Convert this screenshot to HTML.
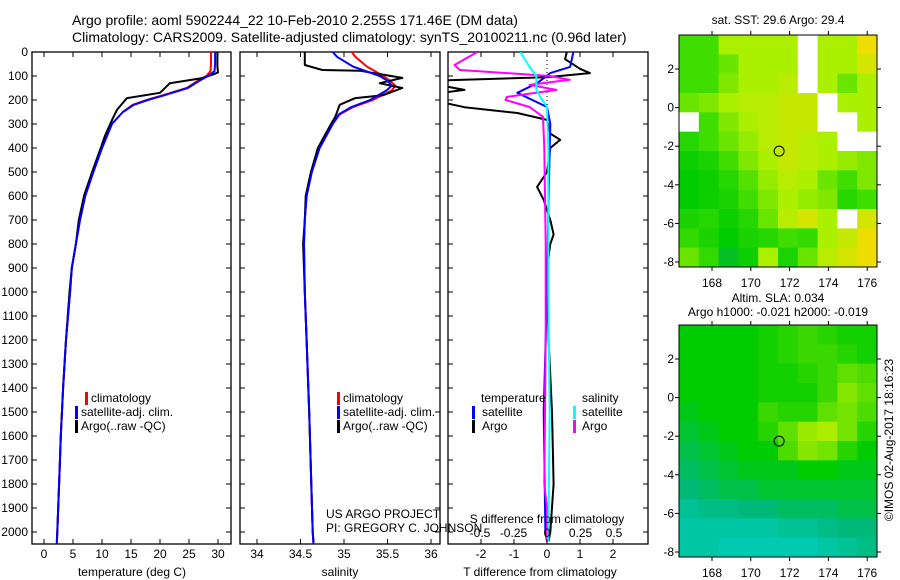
<!DOCTYPE html>
<html><head><meta charset="utf-8"><style>
html,body{margin:0;padding:0;background:#fff;}
svg{display:block;font-family:"Liberation Sans",sans-serif;}
text{font-size:12px;fill:#000;}
</style></head><body>
<svg id="c" width="900" height="580" viewBox="0 0 900 580" xmlns="http://www.w3.org/2000/svg">
<text x="72" y="25" style="font-size:14px">Argo profile: aoml 5902244_22 10-Feb-2010 2.255S 171.46E (DM data)</text>
<text x="72" y="42" style="font-size:14px">Climatology: CARS2009. Satellite-adjusted climatology: synTS_20100211.nc (0.96d later)</text>
<defs><clipPath id="clip3"><rect x="448" y="52" width="200" height="492"/></clipPath></defs>
</svg>
<script>
// ---- data ----
const depthTicks=[0,100,200,300,400,500,600,700,800,900,1000,1100,1200,1300,1400,1500,1600,1700,1800,1900,2000];
const tTicks=[0,5,10,15,20,25,30];
const sTicks=[34,34.5,35,35.5,36];
const sTickLabels=["34","34.5","35","35.5","36"];
const dtTicks=[-2,-1,0,1,2];
const dsTicks=[-0.5,-0.25,0,0.25,0.5];
const dsTickLabels=["-0.5","-0.25","0","0.25","0.5"];
const climDepth=[0,50,80,100,120,150,180,200,220,250,300,400,500,600,700,800,900,1000,1200,1400,1600,1800,2000,2050];
const climT=[28.8,28.8,28.7,28,26.5,24.6,20.5,17.7,15.3,13.6,11.7,10,8.5,7.1,6.2,5.5,4.8,4.5,3.8,3.3,2.9,2.6,2.3,2.2];
const satT=[29.5,29.5,29.4,28.3,26.8,24.8,20.8,17.9,15.5,13.6,11.7,10,8.5,7.1,6.2,5.5,4.8,4.5,3.8,3.3,2.9,2.6,2.3,2.2];
const argoTDepth=[0,60,85,95,110,130,170,192,240,280,350,400,500,600,700,800,900,1000,1200,1400,1600,1800,2000,2040];
const argoT=[29.9,29.9,30,29,27,21.7,20,14.3,12.6,11.8,10.5,9.8,8.3,6.9,6.0,5.5,4.8,4.4,3.8,3.3,2.9,2.6,2.3,2.2];
const climSDepth=[0,20,60,100,120,140,160,200,230,260,300,400,500,600,700,800,1000,1200,1500,2000,2050];
const climS=[35.09,35.13,35.26,35.45,35.53,35.59,35.55,35.33,35.1,34.95,34.87,34.72,34.63,34.57,34.55,34.54,34.55,34.57,34.6,34.64,34.65];
const satS=[34.87,34.92,35.1,35.41,35.5,35.55,35.49,35.3,35.08,34.94,34.87,34.72,34.63,34.57,34.55,34.54,34.55,34.57,34.6,34.64,34.65];
const argoSDepth=[0,54,75,78,108,130,150,180,192,220,270,300,400,500,600,700,800,1000,1200,1500,2000,2040];
const argoS=[34.55,34.55,34.75,35.18,35.67,35.41,35.67,35.45,35.13,34.95,34.9,34.85,34.7,34.62,34.56,34.55,34.53,34.55,34.57,34.6,34.64,34.65];
const dTArgoDepth=[0,30,70,88,105,120,140,158,175,200,230,254,283,340,366,400,500,562,616,700,760,800,900,1200,1500,1800,2000,2040];
const dTArgo=[0.6,0.55,1.0,1.3,0,-3.5,-3.2,-2.5,-3.5,-3.5,-2.5,-0.9,0,0.1,0.4,0.1,0,-0.3,-0.1,0.1,0.2,0.1,0,0.05,0.15,0.2,0.1,0.05];
const dTSatDepth=[0,62,88,130,170,229,300,600,1000,1500,2000,2040];
const dTSat=[0.8,0.7,0.1,-0.3,-0.9,0,0.1,0.05,0,-0.1,-0.05,0];
const dSArgoDepth=[0,54,75,88,100,116,137,158,187,200,229,270,400,800,1200,1800,1900,2040];
const dSArgo=[-0.52,-0.69,-0.65,-0.3,0.02,0.17,-0.13,0.07,-0.3,-0.31,-0.13,-0.03,-0.02,-0.01,-0.01,-0.02,0,0];
const dSSatDepth=[0,62,100,158,187,229,400,1000,1500,2040];
const dSSat=[-0.2,-0.13,-0.08,-0.08,-0.05,0,0.01,0.01,0.02,0.01];
const latTicks=[2,0,-2,-4,-6,-8];
const lonTicks=[168,170,172,174,176];
const argoLon=171.46, argoLat=-2.255;
// map grids (10 lon cols x 12 lat rows); -1 = missing
const sstGrid=[
[1,1,1.5,1.5,1.5,1.5,-1,1.5,1.5,2],
[1,1,1.2,1.5,1.5,1.5,-1,1.5,1.5,1.8],
[1,1,1.3,1.5,1.5,1.6,-1,1.5,1.2,1.5],
[1.2,1.3,1.5,1.6,1.6,1.7,1.7,-1,1.5,1.5],
[-1,1,1.3,1.5,1.6,1.7,1.7,-1,-1,1.5],
[0.8,1,1.2,1.4,1.6,1.7,1.6,1.5,-1,-1],
[0.6,0.7,1,1.3,1.5,1.7,1.6,1.5,1.4,1.3],
[0.5,0.6,0.8,1.1,1.4,1.6,1.5,1.2,1.0,1.3],
[0.5,0.6,0.7,1,1.3,1.5,1.4,1.3,0.8,1.0],
[0.7,0.8,0.6,0.8,1.2,1.6,1.8,1.5,-1,1.8],
[0.9,0.7,0.5,0.7,0.8,1.0,0.9,1.5,1.7,2],
[1.2,0.9,0.3,0.6,1.5,0.7,1.2,1.6,1.8,2]];
const slaGrid=[
[1,1,1,1,1.1,1.2,1.3,1.2,1.1,1.1],
[1,1,1,1,1.1,1.2,1.3,1.3,1.2,1.1],
[1,1,1,1,1.1,1.1,1.2,1.3,1.5,1.4],
[1,1,1,1,1.1,1.1,1.1,1.3,1.7,1.5],
[0.9,1,1,1,1.3,1.2,1.2,1.5,1.6,1.4],
[0.8,0.9,1,1,1.2,1.5,1.8,1.9,1.6,1.2],
[0.7,0.8,0.9,1,1.0,1.4,1.7,1.6,1.2,1.0],
[0.6,0.7,0.8,0.9,0.9,0.9,1.0,1.0,0.9,0.9],
[0.5,0.6,0.7,0.7,0.8,0.8,0.8,0.8,0.8,0.8],
[0.3,0.4,0.4,0.5,0.5,0.6,0.6,0.6,0.7,0.7],
[0.2,0.2,0.2,0.2,0.2,0.3,0.3,0.4,0.5,0.5],
[0.2,0.2,0.1,0.1,0.1,0.1,0.1,0.2,0.3,0.4]];

// ---- helpers ----
const svg=document.getElementById('c');
const NS='http://www.w3.org/2000/svg';
function mk(tag,attrs,parent){const e=document.createElementNS(NS,tag);for(const k in attrs)e.setAttribute(k,attrs[k]);(parent||svg).appendChild(e);return e;}
function txt(s,x,y,anchor,name){const t=mk('text',{x:x,y:y,'text-anchor':anchor||'start'});t.textContent=s;


return t;}
const yD=d=>52+d*0.24;
const xT=t=>44+t*5.8;
const xS=s=>257+(s-34)*87;
const xDT=v=>547+v*33;
const xDS=v=>547+v*134;
const xLon=l=>712+(l-168)*19.4;
const yLat1=l=>69+(2-l)*19.3;
const yLat2=l=>359+(2-l)*19.3;

function panel(x0,x1,name){
  const r=mk('rect',{x:x0,y:52,width:x1-x0,height:492,fill:'none',stroke:'#000','stroke-width':1.3});
  
  
  depthTicks.forEach(d=>{
    mk('line',{x1:x0,x2:x0+5,y1:yD(d),y2:yD(d),stroke:'#000'});
    mk('line',{x1:x1,x2:x1-5,y1:yD(d),y2:yD(d),stroke:'#000'});
  });
}
function line(ds,vs,fx,color,name,clip){
  const pts=ds.map((d,i)=>fx(vs[i]).toFixed(1)+','+yD(d).toFixed(1)).join(' ');
  const p=mk('polyline',{points:pts,fill:'none',stroke:color,'stroke-width':2,'stroke-linejoin':'round'});
  if(clip)p.setAttribute('clip-path','url(#clip3)');
  
  
}
function xticks(vals,labels,fx,x0,x1,ly,name,top){
  vals.forEach((v,i)=>{
    const x=fx(v);
    mk('line',{x1:x,x2:x,y1:544,y2:539,stroke:'#000'});
    if(top)mk('line',{x1:x,x2:x,y1:52,y2:57,stroke:'#000'});
    txt(labels[i],x,ly,'middle',name);
  });
}
function legendMark(x,y,color){const m=mk('rect',{x:x,y:y-10,width:3,height:13,fill:color});

}

// y axis labels
depthTicks.forEach(d=>txt(String(d),28,yD(d)+4,'end','depth-tick-label'));

// Panel 1 temperature
panel(32,231,'temperature-panel');
xticks(tTicks,tTicks.map(String),xT,32,231,558,'temperature-tick-label',true);
txt('temperature (deg C)',132,576,'middle','temperature-axis-title');
line(climDepth,climT,xT,'#ff0000','temperature-climatology-line');
line(argoTDepth,argoT,xT,'#000000','temperature-argo-line');
line(climDepth,satT,xT,'#0000ff','temperature-satellite-line');
legendMark(85,402,'#ff0000');txt('climatology',91,402,'start','legend-climatology');
legendMark(75,416,'#0000ff');txt('satellite-adj. clim.',81,416,'start','legend-satellite');
legendMark(75,430,'#000');txt('Argo(..raw -QC)',81,430,'start','legend-argo');

// Panel 2 salinity
panel(240,440,'salinity-panel');
xticks(sTicks,sTickLabels,xS,240,440,558,'salinity-tick-label',true);
txt('salinity',340,576,'middle','salinity-axis-title');
line(climSDepth,climS,xS,'#ff0000','salinity-climatology-line');
line(argoSDepth,argoS,xS,'#000000','salinity-argo-line');
line(climSDepth,satS,xS,'#0000ff','salinity-satellite-line');
legendMark(337,402,'#ff0000');txt('climatology',343,402,'start','legend-climatology');
legendMark(337,416,'#0000ff');txt('satellite-adj. clim.',343,416,'start','legend-satellite');
legendMark(337,430,'#000');txt('Argo(..raw -QC)',343,430,'start','legend-argo');
txt('US ARGO PROJECT',326,518,'start','project-credit');
txt('PI: GREGORY C. JOHNSON',326,532,'start','pi-credit');

// Panel 3 differences
panel(448,648,'difference-panel');
mk('line',{x1:547,x2:547,y1:52,y2:110,stroke:'#000','stroke-dasharray':'1,3'});
line(dTArgoDepth,dTArgo,xDT,'#000000','t-diff-argo-line',true);
line(dTSatDepth,dTSat,xDT,'#0000ff','t-diff-satellite-line',true);
line(dSArgoDepth,dSArgo,xDS,'#ff00ff','s-diff-argo-line',true);
line(dSSatDepth,dSSat,xDS,'#00ffff','s-diff-satellite-line',true);
dtTicks.forEach(v=>{const x=xDT(v);mk('line',{x1:x,x2:x,y1:544,y2:539,stroke:'#000'});mk('line',{x1:x,x2:x,y1:52,y2:57,stroke:'#000'});txt(String(v),x,558,'middle','t-diff-tick-label');});
dsTicks.forEach((v,i)=>txt(dsTickLabels[i],xDS(v),537,'middle','s-diff-tick-label'));
txt('S difference from climatology',547,523,'middle','s-diff-axis-title');
txt('T difference from climatology',540,576,'middle','t-diff-axis-title');
txt('temperature',481,402,'start','legend-temperature-header');
txt('salinity',582,402,'start','legend-salinity-header');
legendMark(472,416,'#0000ff');txt('satellite',482,416,'start','legend-t-satellite');
legendMark(472,430,'#000');txt('Argo',482,430,'start','legend-t-argo');
legendMark(573,416,'#00ffff');txt('satellite',582,416,'start','legend-s-satellite');
legendMark(573,430,'#ff00ff');txt('Argo',582,430,'start','legend-s-argo');

// maps
function lerpColor(stops,v){
  for(let i=0;i<stops.length-1;i++){const a=stops[i],b=stops[i+1];
    if(v<=b[0]){const f=Math.max(0,(v-a[0])/(b[0]-a[0]));
      const c=a[1].map((x,j)=>Math.round(x+(b[1][j]-x)*f));return 'rgb('+c.join(',')+')';}}
  return 'rgb('+stops[stops.length-1][1].join(',')+')';
}
const sstStops=[[0,[16,176,96]],[0.5,[0,204,0]],[1,[64,221,0]],[1.5,[170,240,0]],[2,[238,221,0]]];
const slaStops=[[0,[0,208,192]],[0.5,[0,184,120]],[1,[0,204,0]],[1.5,[96,224,0]],[2,[192,240,0]]];
function drawMap(grid,stops,y0,fy,name,title1,title2,lonLabelY){
  const x0=679,x1=877,y1=y0+232;
  const g=mk('g',{});
  
  
  const cw=(x1-x0)/grid[0].length,ch=(y1-y0)/grid.length;
  grid.forEach((row,r)=>row.forEach((v,c)=>{
    const cell=mk('rect',{x:x0+c*cw,y:y0+r*ch,width:cw+0.5,height:ch+0.5,fill:v<0?'#fff':lerpColor(stops,v)},g);
    
    
  }));
  mk('rect',{x:x0,y:y0,width:x1-x0,height:y1-y0,fill:'none',stroke:'#000'});
  latTicks.forEach(l=>{const y=fy(l);mk('line',{x1:x0-4,x2:x0,y1:y,y2:y,stroke:'#000'});mk('line',{x1:x1,x2:x1+4,y1:y,y2:y,stroke:'#000'});txt(String(l),674,y+4,'end','map-lat-label');});
  lonTicks.forEach(l=>{const x=xLon(l);mk('line',{x1:x,x2:x,y1:y0-4,y2:y0,stroke:'#000'});mk('line',{x1:x,x2:x,y1:y1,y2:y1+4,stroke:'#000'});txt(String(l),x,lonLabelY,'middle','map-lon-label');});
  const m=mk('circle',{cx:xLon(argoLon),cy:fy(argoLat),r:5,fill:'none',stroke:'#000'});
  
  
  if(title2){txt(title1,778,y0-23,'middle','map-title');txt(title2,778,y0-9,'middle','map-subtitle');}
  else txt(title1,778,y0-11,'middle','map-title');
}
drawMap(sstGrid,sstStops,35,yLat1,'sst-map','sat. SST: 29.6 Argo: 29.4',null,287);
drawMap(slaGrid,slaStops,325,yLat2,'sla-map','Altim. SLA: 0.034','Argo h1000: -0.021 h2000: -0.019',577);
const cr=txt('©IMOS 02-Aug-2017 18:16:23',0,0,'middle','imos-timestamp');
cr.setAttribute('transform','translate(893,440) rotate(-90)');
</script>
</body></html>
